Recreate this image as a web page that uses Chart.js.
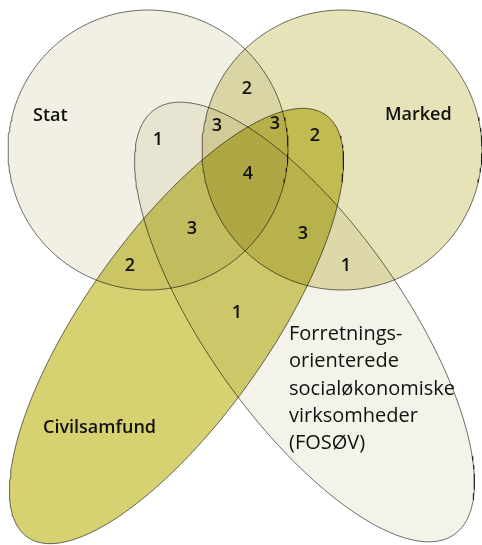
<!DOCTYPE html>
<html>
<head>
<meta charset="utf-8">
<script src="https://cdn.jsdelivr.net/npm/chart.js@4/dist/chart.umd.min.js"></script>
<style>
  html, body { margin: 0; padding: 0; background: #ffffff; }
  #wrap { width: 482px; height: 545px; }
</style>
</head>
<body>
<div id="wrap"><canvas id="c" width="482" height="545"></canvas></div>
<script>
// ---- Sets (Venn shapes) ----
const setNames    = ['Stat', 'Marked', 'FOSØV', 'Civilsamfund'];
const setCenterX  = [148, 342, 304.5, 176.5];
const setCenterY  = [150, 150, 322, 326];
const setRadiusA  = [140, 140, 260, 258.5];
const setRadiusB  = [140, 140, 98, 92];
const setTiltDeg  = [0, 0, 54.8, -54.75];
const setColors   = ['#f2f0e4', '#e6e3b8', '#f4f3ea', '#d6d272'];

// ---- Region counts ----
const regionCounts = [2, 3, 3, 2, 1, 4, 3, 3, 2, 1, 1];
const regionX      = [247, 217, 275, 315, 158, 248, 192, 303, 130, 346, 237];
const regionY      = [89, 126, 124, 136, 140, 174, 229, 234, 266, 266, 313];

// ---- Set name labels ----
const nameLabels = ['Stat', 'Marked', 'Civilsamfund',
  'Forretnings-\norienterede\nsocialøkonomiske\nvirksomheder\n(FOSØV)'];
const nameX = [33, 385, 43, 289];
const nameY = [121, 120, 433, 340];
const nameBold = [true, true, true, false];

function outline(i) {
  const pts = [];
  const n = 240;
  const t = setTiltDeg[i] * Math.PI / 180;
  for (let k = 0; k <= n; k++) {
    const a = 2 * Math.PI * k / n;
    const ex = setRadiusA[i] * Math.cos(a);
    const ey = setRadiusB[i] * Math.sin(a);
    pts.push({
      x: setCenterX[i] + ex * Math.cos(t) - ey * Math.sin(t),
      y: setCenterY[i] + ex * Math.sin(t) + ey * Math.cos(t)
    });
  }
  return pts;
}

const datasets = setNames.map((name, i) => ({
  label: name,
  data: outline(i),
  showLine: true,
  fill: 'shape',
  backgroundColor: setColors[i],
  borderColor: '#6f6f6a',
  borderWidth: 1,
  pointRadius: 0,
  pointHoverRadius: 0,
  tension: 0
}));

const blendPlugin = {
  id: 'blend',
  beforeDatasetsDraw(chart) {
    chart.ctx.save();
    chart.ctx.globalCompositeOperation = 'multiply';
  },
  afterDatasetsDraw(chart) {
    chart.ctx.restore();
  }
};

const textPlugin = {
  id: 'texts',
  afterDraw(chart) {
    const ctx = chart.ctx;
    const xs = chart.scales.x, ys = chart.scales.y;
    ctx.save();
    ctx.fillStyle = '#111111';
    ctx.textAlign = 'center';
    ctx.textBaseline = 'middle';
    ctx.font = '600 18px "Open Sans"';
    regionCounts.forEach((v, i) => {
      ctx.fillText(String(v), xs.getPixelForValue(regionX[i]), ys.getPixelForValue(regionY[i]));
    });
    ctx.textAlign = 'left';
    ctx.textBaseline = 'alphabetic';
    nameLabels.forEach((txt, i) => {
      ctx.font = nameBold[i] ? '600 18px "Open Sans"' : '400 20px "Open Sans"';
      const lines = txt.split('\n');
      lines.forEach((ln, j) => {
        ctx.fillText(ln, xs.getPixelForValue(nameX[i]), ys.getPixelForValue(nameY[i] + j * 27.3));
      });
    });
    ctx.restore();
  }
};

new Chart(document.getElementById('c'), {
  type: 'scatter',
  data: { datasets },
  options: {
    responsive: false,
    devicePixelRatio: 1,
    animation: false,
    layout: { padding: 0 },
    plugins: { legend: { display: false }, tooltip: { enabled: false } },
    scales: {
      x: { type: 'linear', min: 0, max: 482, display: false },
      y: { type: 'linear', min: 0, max: 545, reverse: true, display: false }
    }
  },
  plugins: [blendPlugin, textPlugin]
});
</script>
</body>
</html>
